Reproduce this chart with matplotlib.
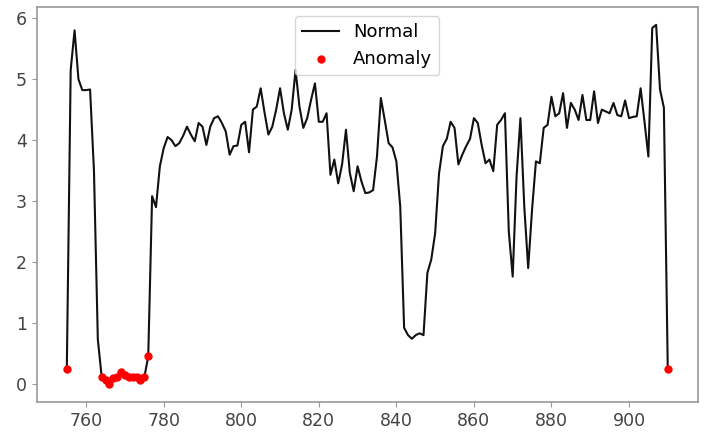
import matplotlib
matplotlib.use('Agg')
import matplotlib.pyplot as plt
import numpy as np

# index values 755..910
idx = np.arange(755, 911)

valores = [
    0.25, 5.15, 5.80, 5.00, 4.82, 4.82, 4.83, 3.50, 0.73, 0.11,   # 755-764
    0.07, 0.00, 0.10, 0.12, 0.20, 0.14, 0.11, 0.11, 0.11, 0.07,   # 765-774
    0.11, 0.45, 3.08, 2.90, 3.57, 3.87, 4.05, 4.00, 3.90, 3.95,   # 775-784
    4.07, 4.22, 4.09, 3.98, 4.28, 4.22, 3.92, 4.22, 4.36, 4.39,   # 785-794
    4.28, 4.14, 3.76, 3.90, 3.91, 4.25, 4.30, 3.80, 4.50, 4.55,   # 795-804
    4.85, 4.45, 4.09, 4.22, 4.50, 4.85, 4.44, 4.17, 4.50, 5.15,   # 805-814
    4.55, 4.20, 4.36, 4.66, 4.93, 4.30, 4.30, 4.44, 3.43, 3.68,   # 815-824
    3.29, 3.60, 4.17, 3.46, 3.16, 3.57, 3.32, 3.13, 3.14, 3.18,   # 825-834
    3.73, 4.69, 4.33, 3.95, 3.88, 3.65, 2.91, 0.92, 0.80, 0.74,   # 835-844
    0.80, 0.83, 0.80, 1.82, 2.04, 2.47, 3.45, 3.90, 4.02, 4.30,   # 845-854
    4.20, 3.60, 3.76, 3.90, 4.02, 4.36, 4.28, 3.92, 3.62, 3.68,   # 855-864
    3.49, 4.25, 4.33, 4.44, 2.50, 1.76, 3.40, 4.36, 2.90, 1.90,   # 865-874
    2.86, 3.65, 3.62, 4.20, 4.25, 4.71, 4.39, 4.44, 4.77, 4.20,   # 875-884
    4.61, 4.50, 4.33, 4.74, 4.33, 4.33, 4.80, 4.28, 4.50, 4.47,   # 885-894
    4.44, 4.61, 4.41, 4.39, 4.65, 4.36, 4.38, 4.39, 4.85, 4.30,   # 895-904
    3.73, 5.84, 5.89, 4.83, 4.53, 0.24,                           # 905-910
]

anomalias = [755] + list(range(764, 777)) + [910]

serie = dict(zip(idx, valores))
anom_y = [serie[i] for i in anomalias]

fig = plt.figure(figsize=(7.07, 4.33), dpi=100)
ax = fig.add_axes([0.052, 0.072, 0.935, 0.912])

ax.plot(idx, valores, color='#111111', linewidth=1.5, label='Normal')
ax.scatter(anomalias, anom_y, color='red', s=25, zorder=3, label='Anomaly')

for s in ax.spines.values():
    s.set_color('#999999')
    s.set_linewidth(1.2)
ax.tick_params(colors='#444444', labelsize=12.5, color='#999999')
ax.set_xticks([760, 780, 800, 820, 840, 860, 880, 900])

ax.legend(loc='upper center', fontsize=13)

fig.savefig('out.png', dpi=100)
